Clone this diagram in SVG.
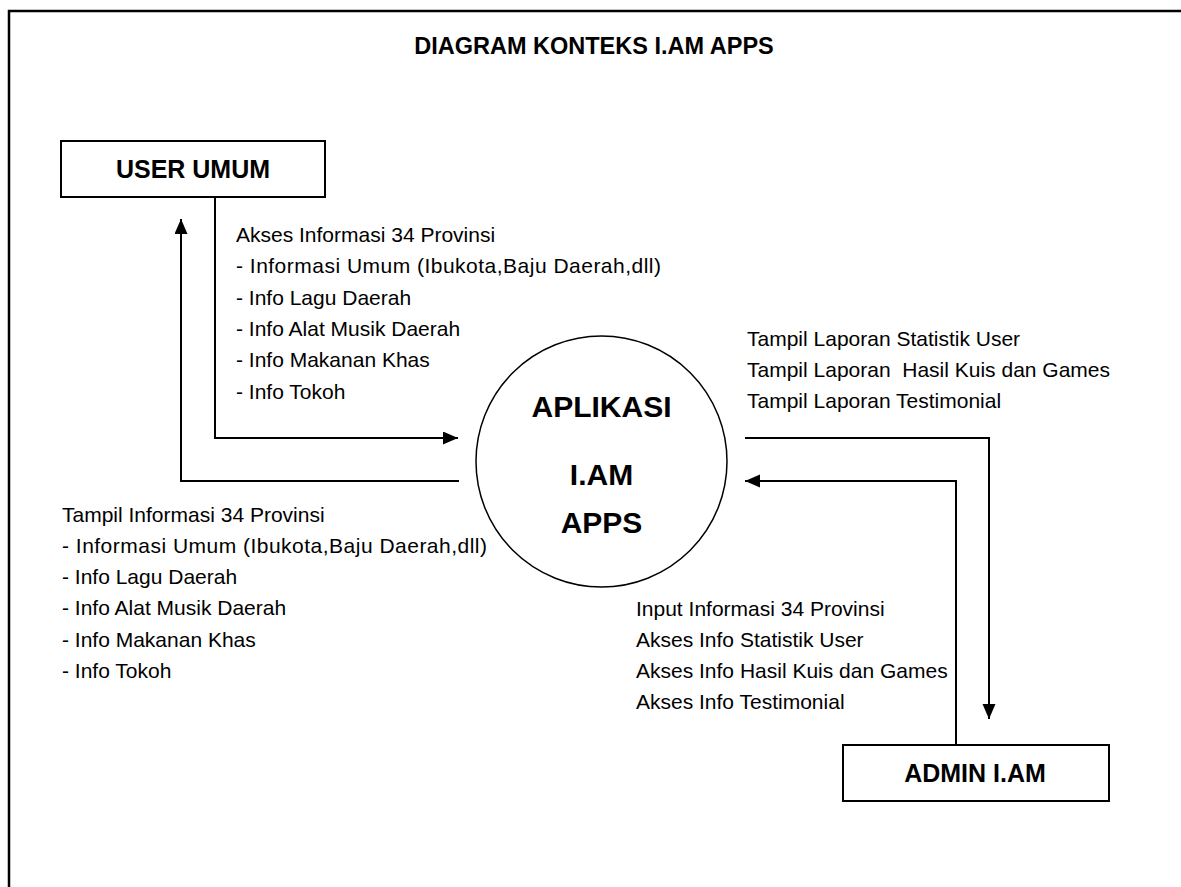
<svg xmlns="http://www.w3.org/2000/svg" width="1181" height="887" viewBox="0 0 1181 887">
<style>
.frame{fill:none;stroke:#000;stroke-width:2.5}
.box{fill:#fff;stroke:#000;stroke-width:2}
.proc{fill:#fff;stroke:#000;stroke-width:1.5}
.conn{fill:none;stroke:#000;stroke-width:2}
.title{font-family:"Liberation Sans",Arial,sans-serif;font-weight:bold;font-size:23.5px;fill:#000}
.lbl{font-family:"Liberation Sans",Arial,sans-serif;font-weight:bold;font-size:25px;fill:#000}
.plbl{font-family:"Liberation Sans",Arial,sans-serif;font-weight:bold;font-size:30px;fill:#000}
.txt{font-family:"Liberation Sans",Arial,sans-serif;font-size:21px;fill:#000}
</style>
<defs>
<marker id="arr" markerUnits="userSpaceOnUse" markerWidth="16" markerHeight="14" refX="15" refY="6.5" orient="auto">
<path d="M0,0 L15,6.5 L0,13 z" fill="#000"/>
</marker>
</defs>
<rect width="1181" height="887" fill="#fff"/>
<path class="frame" d="M9,887 L9,11 L1181,11"/>
<text class="title" x="594" y="54" text-anchor="middle">DIAGRAM KONTEKS I.AM APPS</text>
<g id="connectors">
<path class="conn" d="M215,197 L215,438 L458,438" marker-end="url(#arr)"/>
<path class="conn" d="M459,481 L181,481 L181,219" marker-end="url(#arr)"/>
<path class="conn" d="M745,438 L989,438 L989,719" marker-end="url(#arr)"/>
<path class="conn" d="M956,745 L956,481 L745,481" marker-end="url(#arr)"/>
</g>
<g id="user-umum">
<rect class="box" x="61" y="141" width="264" height="56"/>
<text class="lbl" x="193" y="178" text-anchor="middle">USER UMUM</text>
</g>
<g id="aplikasi">
<circle class="proc" cx="601.5" cy="461.5" r="125.5"/>
<text class="plbl" x="601.5" y="417" text-anchor="middle">APLIKASI</text>
<text class="plbl" x="601.5" y="485" text-anchor="middle">I.AM</text>
<text class="plbl" x="601.5" y="533" text-anchor="middle">APPS</text>
</g>
<g id="admin">
<rect class="box" x="843" y="745" width="266" height="56"/>
<text class="lbl" x="975" y="782" text-anchor="middle">ADMIN I.AM</text>
</g>
<g id="labels">
<text class="txt" x="236" y="242">Akses Informasi 34 Provinsi</text>
<text class="txt" x="236" y="273" textLength="425" lengthAdjust="spacing">- Informasi Umum (Ibukota,Baju Daerah,dll)</text>
<text class="txt" x="236" y="305">- Info Lagu Daerah</text>
<text class="txt" x="236" y="336">- Info Alat Musik Daerah</text>
<text class="txt" x="236" y="367">- Info Makanan Khas</text>
<text class="txt" x="236" y="399">- Info Tokoh</text>
<text class="txt" x="62" y="522">Tampil Informasi 34 Provinsi</text>
<text class="txt" x="62" y="553" textLength="425" lengthAdjust="spacing">- Informasi Umum (Ibukota,Baju Daerah,dll)</text>
<text class="txt" x="62" y="584">- Info Lagu Daerah</text>
<text class="txt" x="62" y="615">- Info Alat Musik Daerah</text>
<text class="txt" x="62" y="647">- Info Makanan Khas</text>
<text class="txt" x="62" y="678">- Info Tokoh</text>
<text class="txt" x="747" y="346">Tampil Laporan Statistik User</text>
<text class="txt" x="747" y="377" xml:space="preserve">Tampil Laporan  Hasil Kuis dan Games</text>
<text class="txt" x="747" y="408">Tampil Laporan Testimonial</text>
<text class="txt" x="636" y="616">Input Informasi 34 Provinsi</text>
<text class="txt" x="636" y="647">Akses Info Statistik User</text>
<text class="txt" x="636" y="678">Akses Info Hasil Kuis dan Games</text>
<text class="txt" x="636" y="709">Akses Info Testimonial</text>
</g>
</svg>
